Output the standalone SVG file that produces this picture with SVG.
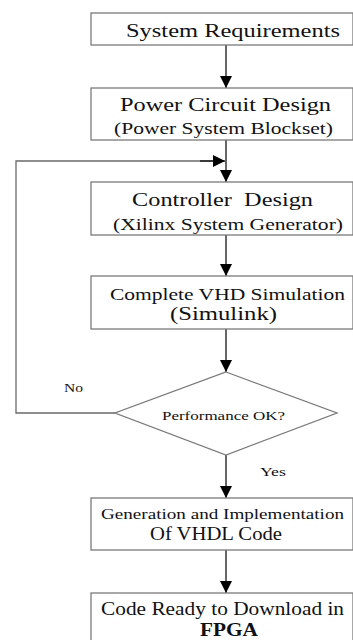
<svg xmlns="http://www.w3.org/2000/svg" width="353" height="640" viewBox="0 0 353 640">
<style>
.box{fill:#fff;stroke:#7a7a7a;stroke-width:1.3}
.t{fill:#111}
.c{fill:none;stroke:#000;stroke-width:1.2}
.g{fill:none;stroke:#6a6a6a;stroke-width:1.3}
</style>
<defs>
<marker id="ah" viewBox="0 0 12 12" refX="12" refY="6" markerWidth="12" markerHeight="12" markerUnits="userSpaceOnUse" orient="auto">
<path d="M0,0 L12,6 L0,12 Z" fill="#000"/>
</marker>
</defs>
<rect width="353" height="640" fill="#fff"/>
<g font-family="'Liberation Serif', 'Times New Roman', 'DejaVu Serif', serif">
<g id="connectors">
<line class="c" x1="226" y1="45" x2="226" y2="88" marker-end="url(#ah)"/>
<line class="c" x1="226" y1="140" x2="226" y2="182" marker-end="url(#ah)"/>
<polyline class="g" points="115,413 16,413 16,161 214,161"/>
<line class="c" x1="200" y1="161" x2="225" y2="161" marker-end="url(#ah)"/>
<line class="c" x1="226" y1="235" x2="226" y2="276" marker-end="url(#ah)"/>
<line class="c" x1="226" y1="329" x2="226" y2="372" marker-end="url(#ah)"/>
<line class="c" x1="226" y1="455" x2="226" y2="498" marker-end="url(#ah)"/>
<line class="c" x1="226" y1="550" x2="226" y2="593" marker-end="url(#ah)"/>
<text class="t" x="64" y="392" font-size="13" textLength="19" lengthAdjust="spacingAndGlyphs">No</text>
<text class="t" x="260" y="476" font-size="13" textLength="26" lengthAdjust="spacingAndGlyphs">Yes</text>
</g>
<g id="n1">
<rect class="box" x="91" y="13" width="262" height="32"/>
<text class="t" x="126" y="37" font-size="19" textLength="214" lengthAdjust="spacingAndGlyphs">System Requirements</text>
</g>
<g id="n2">
<rect class="box" x="91" y="88" width="262" height="52"/>
<text class="t" x="120" y="111" font-size="18" textLength="211" lengthAdjust="spacingAndGlyphs">Power Circuit Design</text>
<text class="t" x="114" y="134" font-size="16" textLength="219" lengthAdjust="spacingAndGlyphs">(Power System Blockset)</text>
</g>
<g id="n3">
<rect class="box" x="91" y="182" width="262" height="53"/>
<text class="t" x="132" y="206" font-size="18" textLength="181" lengthAdjust="spacingAndGlyphs" xml:space="preserve">Controller  Design</text>
<text class="t" x="113" y="230" font-size="16" textLength="230" lengthAdjust="spacingAndGlyphs">(Xilinx System Generator)</text>
</g>
<g id="n4">
<rect class="box" x="91" y="276" width="262" height="53"/>
<text class="t" x="110" y="300" font-size="17" textLength="235" lengthAdjust="spacingAndGlyphs">Complete VHD Simulation</text>
<text class="t" x="170" y="320" font-size="18" textLength="107" lengthAdjust="spacingAndGlyphs">(Simulink)</text>
</g>
<g id="n5">
<polygon class="box" points="226,372 337,413 226,455 115,413"/>
<text class="t" x="162" y="420" font-size="13" textLength="123" lengthAdjust="spacingAndGlyphs">Performance OK?</text>
</g>
<g id="n6">
<rect class="box" x="91" y="498" width="262" height="52"/>
<text class="t" x="101" y="519" font-size="15" textLength="243" lengthAdjust="spacingAndGlyphs">Generation and Implementation</text>
<text class="t" x="150" y="540" font-size="18" textLength="132" lengthAdjust="spacingAndGlyphs">Of VHDL Code</text>
</g>
<g id="n7">
<rect class="box" x="91" y="593" width="262" height="60"/>
<text class="t" x="101" y="615" font-size="18" textLength="243" lengthAdjust="spacingAndGlyphs">Code Ready to Download in</text>
<text class="t" x="200" y="636" font-size="18" font-weight="bold" textLength="58" lengthAdjust="spacingAndGlyphs">FPGA</text>
</g>
</g>
</svg>
